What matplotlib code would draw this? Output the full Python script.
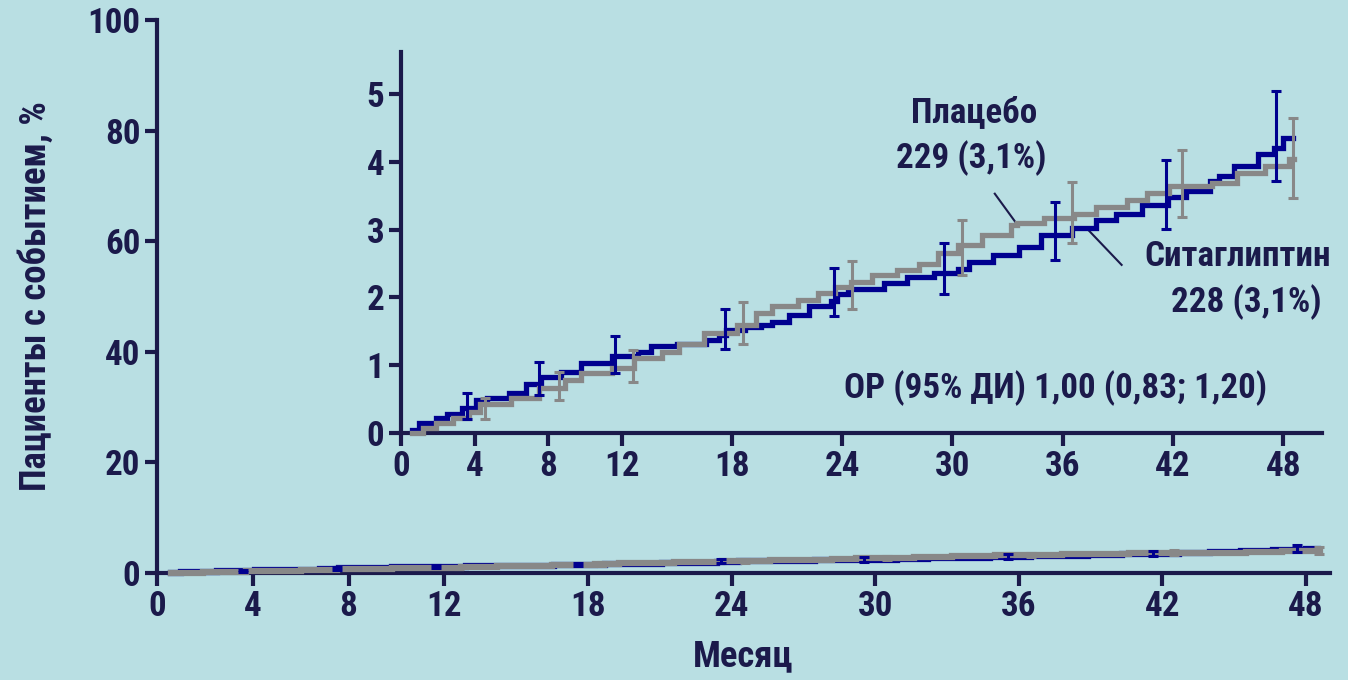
import os
import numpy as np
import matplotlib.pyplot as plt
from matplotlib import font_manager as fm

# Kaplan-Meier style cumulative incidence, % of patients with event
sita_month = [0.6, 1.0, 1.9, 2.5, 3.3, 4.1, 4.7, 5.9, 6.8, 7.6, 8.7, 9.8, 11.5, 12.9,
              13.6, 15.0, 16.6, 17.3, 17.7, 18.7, 19.6, 20.2, 21.1, 22.2, 23.4, 23.7,
              24.3, 26.3, 27.5, 29.0, 30.3, 30.9, 32.2, 33.6, 34.8, 36.5, 37.8, 38.9,
              40.3, 41.7, 42.7, 44.0, 44.5, 45.3, 46.6, 47.5, 48.0, 48.5]
sita_pct = [0.04, 0.15, 0.22, 0.28, 0.37, 0.49, 0.52, 0.59, 0.73, 0.82, 0.90, 1.03, 1.13,
            1.20, 1.28, 1.31, 1.37, 1.44, 1.52, 1.57, 1.60, 1.64, 1.74, 1.87, 1.95, 2.05,
            2.12, 2.22, 2.30, 2.36, 2.42, 2.53, 2.63, 2.75, 2.92, 3.03, 3.14, 3.23, 3.37,
            3.48, 3.57, 3.72, 3.79, 3.94, 4.12, 4.20, 4.35, 4.35]

plac_month = [0.6, 1.2, 1.9, 2.8, 3.7, 4.3, 6.0, 7.5, 8.9, 9.8, 11.5, 12.7, 14.2, 15.1,
              16.5, 18.3, 19.3, 20.2, 21.6, 22.7, 23.6, 24.5, 25.6, 27.0, 28.2, 29.2,
              30.3, 31.6, 33.2, 33.5, 35.0, 36.6, 37.8, 39.5, 40.6, 41.8, 44.1, 45.5,
              47.0, 48.3, 48.6]
plac_pct = [0.0, 0.07, 0.15, 0.22, 0.31, 0.43, 0.51, 0.66, 0.78, 0.88, 0.96, 1.10, 1.20,
            1.32, 1.47, 1.59, 1.77, 1.87, 1.96, 2.06, 2.15, 2.23, 2.33, 2.40, 2.50, 2.65,
            2.77, 2.92, 3.07, 3.10, 3.17, 3.23, 3.34, 3.43, 3.54, 3.64, 3.69, 3.83, 3.94,
            4.04, 4.04]

# 95% CI bars
sita_ci_month = [3.6, 7.5, 11.65, 17.6, 23.55, 29.55, 35.55, 41.6, 47.6]
sita_ci_lo = [0.20, 0.56, 0.88, 1.24, 1.73, 2.05, 2.55, 3.01, 3.72]
sita_ci_hi = [0.585, 1.05, 1.43, 1.83, 2.44, 2.81, 3.41, 4.02, 5.05]
plac_ci_month = [4.55, 8.6, 12.6, 18.6, 24.55, 30.5, 36.5, 42.5, 48.55]
plac_ci_lo = [0.21, 0.48, 0.75, 1.31, 1.83, 2.33, 2.81, 3.18, 3.46]
plac_ci_hi = [0.51, 0.90, 1.23, 1.93, 2.54, 3.14, 3.70, 4.18, 4.64]

main_xticks = [0, 4, 8, 12, 18, 24, 30, 36, 42, 48]
main_yticks = [0, 20, 40, 60, 80, 100]
inset_xticks = [0, 4, 8, 12, 18, 24, 30, 36, 42, 48]
inset_yticks = [0, 1, 2, 3, 4, 5]

BG = "#b9dfe3"
NAVY = "#1b1a4b"
BLUE = "#00008f"
GRAY = "#888888"


def pick_font():
    # prefer a narrow / condensed bold face, like Arial Narrow Bold
    files = [f.fname for f in fm.fontManager.ttflist]
    prefs = ["LiberationSansNarrow-Bold.", "RobotoCondensed-Bold.",
             "Roboto_Condensed-Bold.", "OpenSans_Condensed-Bold.",
             "OpenSansCondensed-Bold.", "OpenSans-CondBold.",
             "DejaVuSansCondensed-Bold.", "LiberationSans-Bold."]
    for p in prefs:
        for f in files:
            if os.path.basename(f).startswith(p):
                return f
    for f in files:
        b = os.path.basename(f).lower()
        if ("narrow" in b or "condensed" in b) and "bold" in b and "italic" not in b \
                and "oblique" not in b and "semi" not in b and "extra" not in b:
            return f
    return None


FONT = pick_font()


def fp(size):
    if FONT:
        return fm.FontProperties(fname=FONT, size=size)
    return fm.FontProperties(family="DejaVu Sans", weight="bold", size=size)


fig = plt.figure(figsize=(13.48, 6.8), dpi=100)
fig.patch.set_facecolor(BG)

# scale text so that the long hazard-ratio line comes out about as wide as in the picture
hr_text = "ОР (95% ДИ) 1,00 (0,83; 1,20)"
probe = fig.text(0, 0, hr_text, fontproperties=fp(21))
w = probe.get_window_extent(fig.canvas.get_renderer()).width
probe.remove()
K = min(1.2, 462.0 / w)
FS = 21 * K


def style_axes(ax, xt, yt):
    ax.set_facecolor("none")
    for s in ["top", "right"]:
        ax.spines[s].set_visible(False)
    for s in ["left", "bottom"]:
        ax.spines[s].set_color(NAVY)
        ax.spines[s].set_linewidth(3)
    ax.tick_params(colors=NAVY, width=3, length=9, direction="out", pad=3)
    ax.set_xticks(xt)
    ax.set_yticks(yt)
    ax.set_xticklabels([str(t) for t in xt], fontproperties=fp(FS), color=NAVY)
    ax.set_yticklabels([str(t) for t in yt], fontproperties=fp(FS), color=NAVY)


def draw_curves(ax, lw, elw, cap):
    ax.plot(sita_month, sita_pct, drawstyle="steps-post", color=BLUE, lw=lw,
            solid_joinstyle="miter", clip_on=False, zorder=3)
    ax.plot(plac_month, plac_pct, drawstyle="steps-post", color=GRAY, lw=lw,
            solid_joinstyle="miter", clip_on=False, zorder=4)
    for m, lo, hi, c, z in [(sita_ci_month, sita_ci_lo, sita_ci_hi, BLUE, 5),
                            (plac_ci_month, plac_ci_lo, plac_ci_hi, GRAY, 6)]:
        lo = np.array(lo)
        hi = np.array(hi)
        mid = (lo + hi) / 2
        ax.errorbar(m, mid, yerr=[mid - lo, hi - mid], fmt="none", ecolor=c,
                    elinewidth=elw, capsize=cap, capthick=elw, clip_on=False,
                    zorder=z)


ax = fig.add_axes([0.1165, 0.1574, 0.8702, 0.8132])
draw_curves(ax, 4.5, 2.2, 3.5)
ax.set_xlim(0, 49)
ax.set_ylim(0, 100)
style_axes(ax, main_xticks, main_yticks)
ax.set_xlabel("Месяц", fontproperties=fp(FS * 1.05), color=NAVY, labelpad=11)
ax.set_ylabel("Пациенты с событием, %", fontproperties=fp(FS * 1.05),
              color=NAVY, labelpad=24)

ins = fig.add_axes([0.2975, 0.3632, 0.6832, 0.5603])
draw_curves(ins, 3.8, 2.2, 3.5)
ins.set_xlim(0, 50.1)
ins.set_ylim(0, 5.62)
style_axes(ins, inset_xticks, inset_yticks)

txt = dict(fontproperties=fp(FS), color=NAVY, ha="center", va="center")
ins.text(31.2, 4.73, "Плацебо", **txt)
ins.text(31.0, 4.06, "229 (3,1%)", **txt)
ins.text(45.5, 2.6, "Ситаглиптин", **txt)
ins.text(46.0, 1.93, "228 (3,1%)", **txt)
ins.text(35.6, 0.66, hr_text, **txt)
# leader lines to the curves
ins.plot([32.3, 33.4], [3.53, 3.12], color=NAVY, lw=1.5)
ins.plot([37.3, 39.2], [3.02, 2.48], color=NAVY, lw=1.5)

fig.savefig("out.png", dpi=100, facecolor=BG)
